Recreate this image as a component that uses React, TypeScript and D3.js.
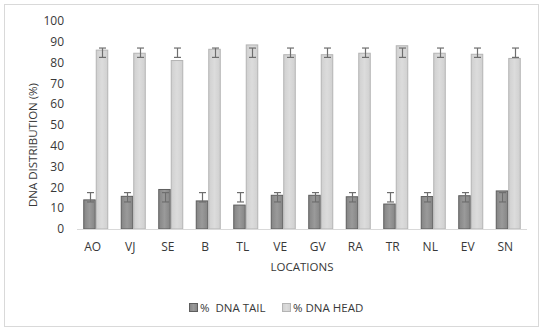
import * as d3 from "d3";
import React from "react";

// data
const locations = ["AO", "VJ", "SE", "B", "TL", "VE", "GV", "RA", "TR", "NL", "EV", "SN"];
const tailValues = [14, 15.7, 19, 13.5, 11.5, 16.2, 16.2, 15.5, 12, 15.6, 16, 18.3];
const headValues = [86, 84.5, 81, 86.4, 88.5, 83.8, 83.8, 84.5, 88.1, 84.5, 84, 82];
const tailErrLow = [13, 13, 13, 13, 13, 13, 13, 13, 13, 13, 13, 13];
const tailErrHigh = [17.5, 17.5, 17.5, 17.5, 17.5, 17.5, 17.5, 17.5, 17.5, 17.5, 17.5, 17.5];
const headErrLow = [82.5, 82.5, 82.5, 82.5, 82.5, 82.5, 82.5, 82.5, 82.5, 82.5, 82.5, 82.5];
const headErrHigh = [87, 87, 87, 87, 87, 87, 87, 87, 87, 87, 87, 87];
const yTicks = [0, 10, 20, 30, 40, 50, 60, 70, 80, 90, 100];
const seriesNames = ["%  DNA TAIL", "% DNA HEAD"];

const width = 550;
const height = 332;
const margin = { top: 21, right: 23, bottom: 103, left: 77 };
const font = "'Open Sans', 'DejaVu Sans', sans-serif";
const textColor = "#383838";

export default function App() {
  const innerW = width - margin.left - margin.right;
  const innerH = height - margin.top - margin.bottom;

  // scales
  const x = d3
    .scaleBand()
    .domain(locations)
    .range([0, innerW])
    .paddingInner(1 / 3)
    .paddingOuter(1 / 6);
  const xs = d3.scaleBand().domain(["tail", "head"]).range([0, x.bandwidth()]);
  const y = d3.scaleLinear().domain([0, 100]).range([innerH, 0]);

  const series = [
    { key: "tail", values: tailValues, lo: tailErrLow, hi: tailErrHigh, fill: "url(#tailGrad)", stroke: "#5e5e5e" },
    { key: "head", values: headValues, lo: headErrLow, hi: headErrHigh, fill: "url(#headGrad)", stroke: "#b4b4b4" },
  ];

  return (
    <svg
      width={width}
      height={height}
      style={{ position: "absolute", left: 0, top: 0, fontFamily: font }}
    >
      <defs>
        <linearGradient id="tailGrad" x1="0" x2="1" y1="0" y2="0">
          <stop offset="0" stopColor="#858585" />
          <stop offset="0.5" stopColor="#9a9a9a" />
          <stop offset="1" stopColor="#858585" />
        </linearGradient>
        <linearGradient id="headGrad" x1="0" x2="1" y1="0" y2="0">
          <stop offset="0" stopColor="#d0d0d0" />
          <stop offset="0.5" stopColor="#dcdcdc" />
          <stop offset="1" stopColor="#d0d0d0" />
        </linearGradient>
      </defs>
      <rect x={4.5} y={4.5} width={534} height={322} fill="#fff" stroke="#d9d9d9" />
      <g transform={`translate(${margin.left},${margin.top})`}>
        {/* y tick labels */}
        {yTicks.map((t) => (
          <text
            key={t}
            x={-13}
            y={y(t)}
            dy="0.35em"
            textAnchor="end"
            fontSize={12}
            fill={textColor}
          >
            {t}
          </text>
        ))}

        {/* bars */}
        {series.map((s) =>
          locations.map((loc, i) => (
            <rect
              key={s.key + loc}
              x={x(loc)! + xs(s.key)! + 0.5}
              y={y(s.values[i])}
              width={xs.bandwidth() - 1}
              height={innerH - y(s.values[i])}
              fill={s.fill}
              stroke={s.stroke}
              strokeWidth={1}
            />
          ))
        )}

        {/* error bars */}
        {series.map((s) =>
          locations.map((loc, i) => {
            const cx = Math.round(x(loc)! + xs(s.key)! + xs.bandwidth() / 2) + 0.5;
            return (
              <g key={"e" + s.key + loc} stroke="#6e6e6e" strokeWidth={1.2}>
                <line x1={cx} x2={cx} y1={y(s.lo[i])} y2={y(s.hi[i])} />
                <line x1={cx - 3.5} x2={cx + 3.5} y1={y(s.lo[i])} y2={y(s.lo[i])} />
                <line x1={cx - 3.5} x2={cx + 3.5} y1={y(s.hi[i])} y2={y(s.hi[i])} />
              </g>
            );
          })
        )}

        {/* x axis */}
        <line x1={0} x2={innerW} y1={innerH + 0.5} y2={innerH + 0.5} stroke="#d9d9d9" />
        {locations.map((loc) => (
          <text
            key={loc}
            x={x(loc)! + x.bandwidth() / 2 - 3}
            y={innerH + 18}
            dy="0.35em"
            textAnchor="middle"
            fontSize={12}
            fill={textColor}
          >
            {loc}
          </text>
        ))}
        <text
          x={225}
          y={innerH + 38}
          dy="0.35em"
          textAnchor="middle"
          fontSize={11.5}
          fill={textColor}
        >
          LOCATIONS
        </text>
        <text
          transform={`translate(${-44},${124}) rotate(-90)`}
          textAnchor="middle"
          dy="0.35em"
          fontSize={11.5}
          fill={textColor}
        >
          DNA DISTRIBUTION (%)
        </text>
      </g>

      {/* legend */}
      {series.map((s, i) => {
        const lx = i === 0 ? 189 : 282;
        return (
          <g key={"l" + s.key}>
            <rect x={lx + 0.5} y={303.5} width={8} height={8} fill={s.fill} stroke={s.stroke} />
            <text
              x={lx + 11}
              y={307.5}
              dy="0.35em"
              fontSize={11.5}
              fill={textColor}
              style={{ whiteSpace: "pre" }}
            >
              {seriesNames[i]}
            </text>
          </g>
        );
      })}
    </svg>
  );
}
